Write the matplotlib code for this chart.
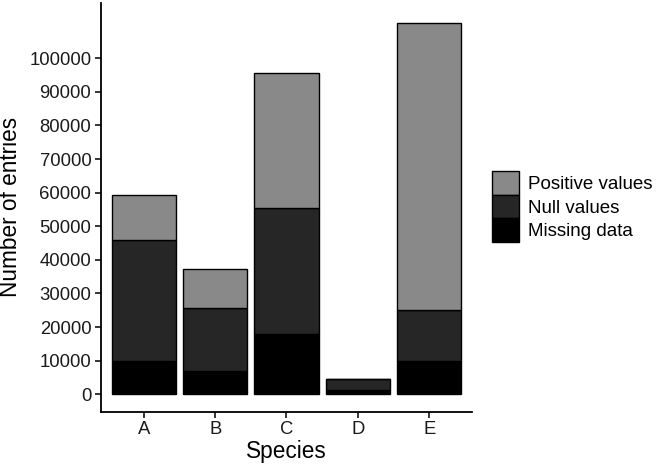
import matplotlib.pyplot as plt
import numpy as np
from matplotlib.patches import Patch

plt.rcParams['font.family'] = ['Liberation Sans', 'DejaVu Sans']

species = ['A', 'B', 'C', 'D', 'E']
missing = [9800, 6900, 18000, 1300, 9800]
null_vals = [36000, 18700, 37400, 3400, 15200]
positive = [13600, 11600, 40200, 0, 85600]

col_pos = '#898989'
col_null = '#262626'
col_miss = '#000000'

fig = plt.figure(figsize=(6.61, 4.66), dpi=100)
ax = fig.add_axes([0.1528, 0.1165, 0.714 - 0.1528, 0.9936 - 0.1165])

x = np.arange(1, len(species) + 1)
miss = np.array(missing)
nul = np.array(null_vals)
pos = np.array(positive)

ax.bar(x, miss, width=0.9, color=col_miss, edgecolor='black', linewidth=1)
ax.bar(x, nul, bottom=miss, width=0.9, color=col_null, edgecolor='black', linewidth=1)
ax.bar(x, pos, bottom=miss + nul, width=0.9, color=col_pos, edgecolor='black', linewidth=1)

ax.set_xlim(0.4, 5.6)
ax.set_ylim(-5180, 116450)
ax.set_xticks(x)
ax.set_xticklabels(species)
ax.set_yticks(np.arange(0, 100001, 10000))
ax.set_yticklabels([str(v) for v in range(0, 100001, 10000)])

for s in ['top', 'right']:
    ax.spines[s].set_visible(False)
for s in ['left', 'bottom']:
    ax.spines[s].set_linewidth(1.3)
ax.tick_params(axis='both', labelsize=13.3, colors='black', length=4, width=1.1, pad=3)
ax.tick_params(axis='both', labelcolor='#1a1a1a')

ax.set_xlabel('Species', fontsize=16.3, labelpad=1)
ax.set_ylabel('Number of entries', fontsize=16.3, labelpad=5)

handles = [
    Patch(facecolor=col_pos, edgecolor='black', linewidth=1, label='Positive values'),
    Patch(facecolor=col_null, edgecolor='black', linewidth=1, label='Null values'),
    Patch(facecolor=col_miss, edgecolor='black', linewidth=1, label='Missing data'),
]
fig.legend(handles=handles, loc='center left', bbox_to_anchor=(0.744, 0.557),
           frameon=False, fontsize=13.5, handlelength=1.43, handleheight=1.56,
           labelspacing=0, handletextpad=0.5, borderpad=0, borderaxespad=0)

fig.savefig('out.png', dpi=100)
